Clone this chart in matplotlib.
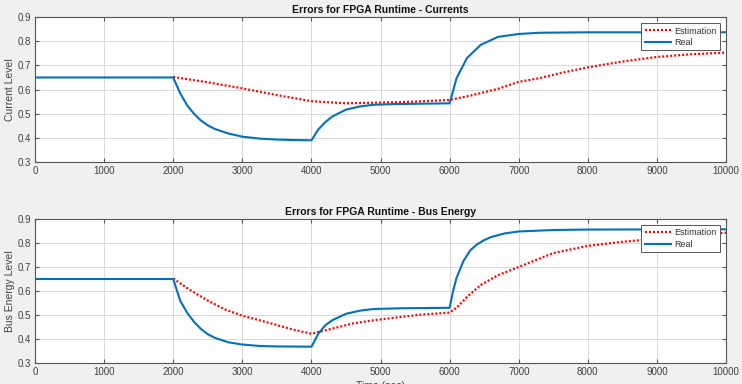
import matplotlib
matplotlib.use("Agg")
import matplotlib.pyplot as plt

# time samples (sec) and values
t_cur_real = [0, 2000, 2100, 2200, 2300, 2400, 2500, 2600, 2800, 3000, 3250, 3500, 3750, 4000,
              4100, 4200, 4300, 4500, 4700, 4900, 5200, 6000,
              6100, 6250, 6450, 6700, 7000, 7300, 8000, 10000]
cur_real = [0.65, 0.65, 0.585, 0.535, 0.50, 0.472, 0.452, 0.437, 0.418, 0.405, 0.397, 0.393, 0.391, 0.39,
            0.435, 0.465, 0.488, 0.517, 0.53, 0.537, 0.54, 0.543,
            0.647, 0.73, 0.785, 0.818, 0.83, 0.835, 0.837, 0.837]

t_cur_est = [2000, 2500, 3000, 3500, 4000, 4500, 5000, 5500, 6000,
             6300, 6700, 7000, 7300, 7600, 8000, 8500, 9000, 9500, 10000]
cur_est = [0.652, 0.63, 0.605, 0.577, 0.552, 0.543, 0.546, 0.55, 0.557,
           0.575, 0.603, 0.632, 0.647, 0.668, 0.692, 0.716, 0.735, 0.746, 0.753]

t_bus_real = [0, 2000, 2100, 2200, 2300, 2400, 2500, 2600, 2800, 3000, 3250, 3500, 4000,
              4100, 4200, 4300, 4500, 4700, 4900, 5300, 6000,
              6050, 6100, 6200, 6300, 6400, 6500, 6600, 6800, 7000, 7500, 8000, 10000]
bus_real = [0.65, 0.65, 0.56, 0.51, 0.472, 0.442, 0.42, 0.405, 0.386, 0.377, 0.371, 0.369, 0.368,
            0.422, 0.457, 0.478, 0.505, 0.518, 0.525, 0.528, 0.53,
            0.60, 0.655, 0.725, 0.77, 0.795, 0.812, 0.825, 0.84, 0.848, 0.854, 0.856, 0.857]

t_bus_est = [2000, 2250, 2500, 2750, 3000, 3250, 3500, 3750, 4000, 4300, 4600, 4900, 5300, 5600, 6000,
             6100, 6250, 6450, 6700, 7000, 7300, 7500, 8000, 8500, 9000, 9500, 10000]
bus_est = [0.652, 0.603, 0.56, 0.523, 0.497, 0.478, 0.458, 0.438, 0.422, 0.443, 0.465, 0.478, 0.492, 0.502, 0.51,
           0.53, 0.575, 0.625, 0.666, 0.70, 0.735, 0.758, 0.788, 0.805, 0.818, 0.832, 0.843]

x_ticks = list(range(0, 10001, 1000))
y_ticks = [0.3, 0.4, 0.5, 0.6, 0.7, 0.8, 0.9]

plt.rcParams['font.family'] = ['Liberation Sans', 'DejaVu Sans']

BLUE = '#0072BD'
TXT = '#404040'
DOTS = (0, (0.9, 0.9))

fig = plt.figure(figsize=(7.42, 3.84), dpi=100, facecolor='#f0f0f0')
ax1 = fig.add_axes([0.0472, 0.578, 0.9313, 0.3776])
ax2 = fig.add_axes([0.0472, 0.0547, 0.9313, 0.375])


def style_axes(ax, title, ylabel):
    ax.set_facecolor('white')
    ax.set_xlim(0, 10000)
    ax.set_ylim(0.3, 0.9)
    ax.set_xticks(x_ticks)
    ax.set_yticks(y_ticks)
    ax.set_yticklabels([f'{v:.1f}' for v in y_ticks])
    ax.grid(True, color='#d9d9d9', linewidth=0.7)
    ax.set_axisbelow(True)
    ax.tick_params(direction='in', top=True, right=True, length=3,
                   labelsize=7, colors='#555555', labelcolor=TXT, pad=3)
    for s in ax.spines.values():
        s.set_color('#555555')
        s.set_linewidth(0.8)
    ax.set_title(title, fontsize=7.5, fontweight='bold', color='#111111', pad=3)
    ax.set_ylabel(ylabel, fontsize=7.5, color=TXT, labelpad=2)


ax1.plot(t_cur_est, cur_est, color='red', linestyle=DOTS, linewidth=1.6, label='Estimation')
ax1.plot(t_cur_real, cur_real, color=BLUE, linewidth=1.5, label='Real')
style_axes(ax1, 'Errors for FPGA Runtime - Currents', 'Current Level')

ax2.plot(t_bus_est, bus_est, color='red', linestyle=DOTS, linewidth=1.6, label='Estimation')
ax2.plot(t_bus_real, bus_real, color=BLUE, linewidth=1.5, label='Real')
style_axes(ax2, 'Errors for FPGA Runtime - Bus Energy', 'Bus Energy Level')
ax2.set_xlabel('Time (sec)', fontsize=7.5, color=TXT, labelpad=3)

for ax in (ax1, ax2):
    leg = ax.legend(loc='upper right', fontsize=6.5, fancybox=False, framealpha=1,
                    edgecolor='#555555', borderpad=0.35, labelspacing=0.25,
                    handlelength=2.9, handletextpad=0.4, borderaxespad=0.7)
    leg.get_frame().set_linewidth(0.7)
    for txt in leg.get_texts():
        txt.set_color('#333333')

fig.savefig('out.png', dpi=100, facecolor=fig.get_facecolor())
